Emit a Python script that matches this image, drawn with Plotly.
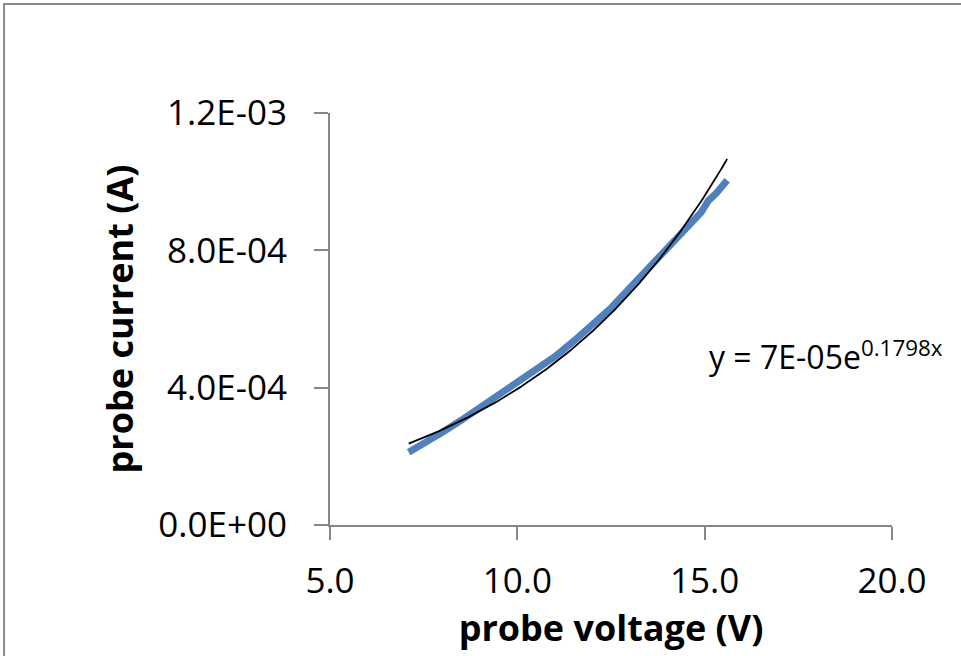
import numpy as np
import plotly.graph_objects as go

# Measured data (probe voltage in V, probe current in A)
voltage = [7.1, 7.5, 8.0, 8.5, 9.0, 9.5, 9.9, 10.0, 10.5, 11.0, 11.5, 12.0,
           12.4, 12.5, 13.0, 13.5, 14.0, 14.5, 14.9, 15.1, 15.3, 15.6]
current = [2.12e-4, 2.36e-4, 2.70e-4, 3.05e-4, 3.42e-4, 3.78e-4, 4.05e-4, 4.12e-4,
           4.50e-4, 4.90e-4, 5.35e-4, 5.80e-4, 6.22e-4, 6.32e-4, 6.90e-4, 7.50e-4,
           8.10e-4, 8.65e-4, 9.10e-4, 9.45e-4, 9.65e-4, 1.004e-3]

x_ticks = [5.0, 10.0, 15.0, 20.0]
x_tick_labels = ["5.0", "10.0", "15.0", "20.0"]
y_ticks = [0.0, 4.0e-4, 8.0e-4, 1.2e-3]
y_tick_labels = ["0.0E+00", "4.0E-04", "8.0E-04", "1.2E-03"]
trend_label = "y = 7E-05e<sup>0.1798x</sup>"

# Exponential trendline fitted to the data (as the spreadsheet does)
b, ln_a = np.polyfit(np.array(voltage), np.log(np.array(current)), 1)
fit_x = np.linspace(min(voltage), max(voltage), 200)
fit_y = np.exp(ln_a) * np.exp(b * fit_x)

FONT = "Open Sans"
AXIS_GRAY = "#878787"

fig = go.Figure()
fig.add_trace(go.Scatter(x=voltage, y=current, mode="lines",
                         line=dict(color="#4F81BD", width=7), hoverinfo="skip",
                         showlegend=False))
fig.add_trace(go.Scatter(x=fit_x, y=fit_y, mode="lines",
                         line=dict(color="black", width=1.8), hoverinfo="skip",
                         showlegend=False))

fig.add_annotation(x=15.05, y=4.95e-4, xref="x", yref="y", text=trend_label,
                   showarrow=False, xanchor="left", yanchor="middle",
                   font=dict(family=FONT, size=32, color="black"))

# outer chart border
fig.add_shape(type="rect", xref="paper", yref="paper",
              x0=-0.58, x1=1.5, y0=-0.6, y1=1.2646,
              line=dict(color="#8a8a8a", width=2), fillcolor="rgba(0,0,0,0)",
              layer="below")

fig.update_layout(
    width=961, height=656,
    margin=dict(l=330, r=69, t=113, b=131, autoexpand=False),
    paper_bgcolor="white", plot_bgcolor="white",
    font=dict(family=FONT, color="black"),
    showlegend=False,
)
fig.update_xaxes(
    range=[5, 20], tickvals=x_ticks, ticktext=x_tick_labels, automargin=False,
    showgrid=False, zeroline=False, showline=True, linecolor=AXIS_GRAY, linewidth=2,
    ticks="outside", ticklen=13, tickwidth=2, tickcolor=AXIS_GRAY,
    tickfont=dict(family=FONT, size=35, color="black"), ticklabelstandoff=11,
    title=dict(text="<b>probe voltage (V)</b>", font=dict(family=FONT, size=36, color="black"),
               standoff=0),
)
fig.update_yaxes(
    range=[0, 1.2e-3], tickvals=y_ticks, ticktext=y_tick_labels, automargin=False,
    showgrid=False, zeroline=False, showline=True, linecolor=AXIS_GRAY, linewidth=2,
    ticks="outside", ticklen=14, tickwidth=2, tickcolor=AXIS_GRAY,
    tickfont=dict(family=FONT, size=35, color="black"), ticklabelstandoff=20,
    title=dict(text="<b>probe current (A)</b>", font=dict(family=FONT, size=36, color="black"),
               standoff=14),
)

fig.write_html("out.html", config={"displayModeBar": False},
               post_script="document.body.style.margin='0';document.body.style.overflow='hidden';")
